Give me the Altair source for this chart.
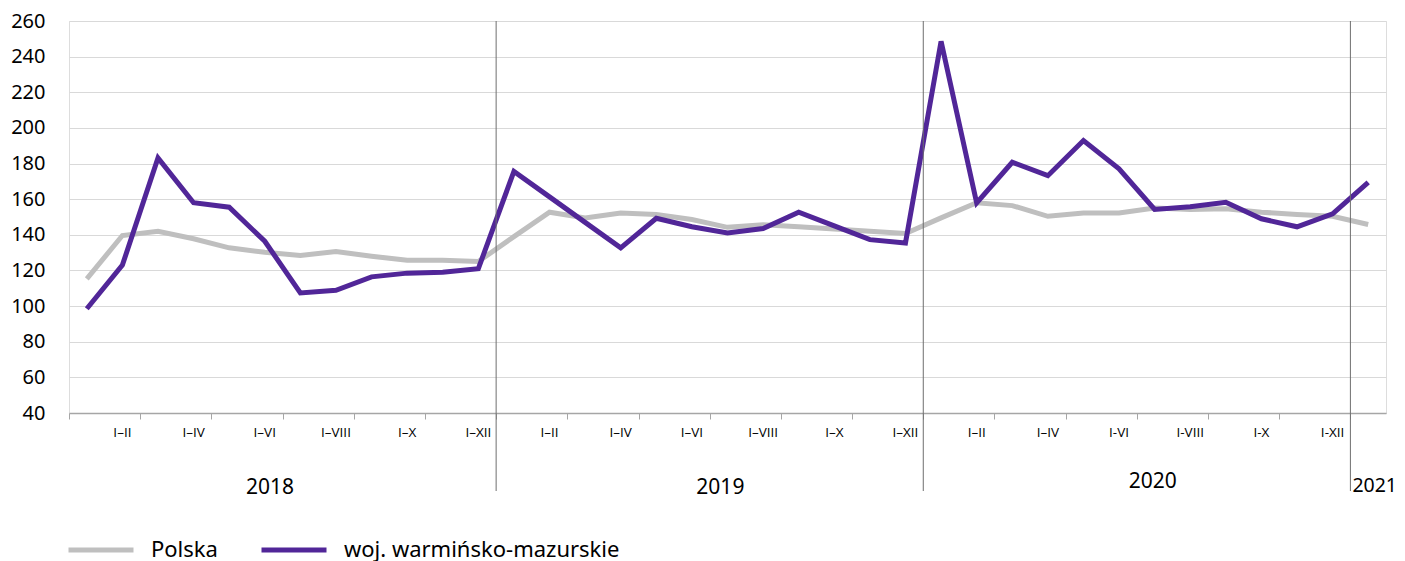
import altair as alt
import pandas as pd

# ---- data ----
series_names = ["Polska", "woj. warmińsko-mazurskie"]
polska = [115.3, 139.6, 142.0, 137.8, 132.7, 130.2, 128.4, 130.6, 128.0, 125.7, 125.7, 125.0,
          139.0, 152.7, 149.5, 152.3, 151.4, 148.6, 144.2, 145.6, 144.5, 143.2, 142.0, 140.7,
          149.5, 158.0, 156.4, 150.4, 152.3, 152.3, 155.0, 154.2, 154.6, 152.7, 151.4, 150.4,
          145.8]
warminsko = [98.5, 123.0, 183.2, 158.0, 155.5, 136.4, 107.4, 108.9, 116.4, 118.5, 119.0, 121.0,
             175.6, 161.3, 147.0, 132.7, 149.3, 144.5, 141.0, 143.5, 152.7, 145.0, 137.3, 135.4,
             248.6, 157.9, 180.7, 173.2, 192.9, 177.0, 154.2, 155.7, 158.3, 149.0, 144.5, 151.8,
             169.5]
tick_labels = ["I–II", "I–IV", "I–VI", "I–VIII", "I–X", "I–XII",
               "I–II", "I–IV", "I–VI", "I–VIII", "I–X", "I–XII",
               "I–II", "I–IV", "I-VI", "I-VIII", "I-X", "I-XII"]
years = ["2018", "2019", "2020", "2021"]
months_per_year = [12, 12, 12, 1]

FONT = "Noto Sans"
TICK_FONT = "Open Sans"
GRAY = "#bfbfbf"
PURPLE = "#512698"

n = len(polska)
df = pd.DataFrame({
    "i": list(range(n)) * 2,
    "value": polska + warminsko,
    "series": [series_names[0]] * n + [series_names[1]] * n,
})

xscale = alt.Scale(domain=[-0.5, n - 0.5], nice=False, zero=False)
boundaries = [k - 0.5 for k in range(n + 1)]

lines = alt.Chart(df).mark_line(strokeWidth=5).encode(
    x=alt.X("i:Q", scale=xscale,
            axis=alt.Axis(values=boundaries, labels=False, ticks=True, tickSize=6,
                          tickColor="#a6a6a6", domainColor="#a6a6a6", domainWidth=1.5,
                          grid=False, title=None)),
    y=alt.Y("value:Q", scale=alt.Scale(domain=[40, 260], nice=False, zero=False),
            axis=alt.Axis(values=list(range(40, 261, 20)), grid=True, gridColor="#d9d9d9",
                          gridWidth=1.2, domain=False, ticks=False, labelFontSize=20,
                          labelFont=FONT, labelColor="#000000", labelPadding=24, title=None)),
    color=alt.Color("series:N",
                    scale=alt.Scale(domain=series_names, range=[GRAY, PURPLE]),
                    legend=alt.Legend(orient="none", legendX=-3, legendY=494,
                                      direction="horizontal", title=None,
                                      symbolType="stroke", symbolSize=4225,
                                      symbolStrokeWidth=5, labelFontSize=22,
                                      labelFont=FONT, labelColor="#000000",
                                      labelLimit=500,
                                      labelOffset=15, columnPadding=33)),
)

# tick labels at every second month
tick_idx = list(range(1, 36, 2))
tl_df = pd.DataFrame({"i": tick_idx, "label": tick_labels})
tick_text = alt.Chart(tl_df).mark_text(fontSize=13.5, font=TICK_FONT, color="#000000",
                                       baseline="middle", align="center").encode(
    x=alt.X("i:Q", scale=xscale), y=alt.value(412), text="label:N")

# year separators
starts = [0]
for m in months_per_year[:-1]:
    starts.append(starts[-1] + m)
sep_df = pd.DataFrame({"b": [s - 0.5 for s in starts[1:]]})
seps = alt.Chart(sep_df).mark_rule(color="#6e6e6e", strokeWidth=1).encode(
    x=alt.X("b:Q", scale=xscale), y=alt.value(0), y2=alt.value(470))

# year labels
yr_shift = [-0.35, 0.3, 0.45, 0.0]
yr_pos = []
for s, m, sh in zip(starts, months_per_year, yr_shift):
    yr_pos.append(s + (m - 1) / 2 + sh)
yr_df = pd.DataFrame({"year": years[:3], "pos": yr_pos[:3], "ypix": [467, 467, 461]})
yr_text = alt.Chart(yr_df).mark_text(fontSize=21, font=FONT, color="#000000",
                                     baseline="middle", align="center").encode(
    x=alt.X("pos:Q", scale=xscale), y=alt.Y("ypix:Q", scale=None), text="year:N")
yr_last = alt.Chart(pd.DataFrame({"year": [years[3]], "b": [starts[3] - 0.5]})).mark_text(
    fontSize=19.5, font=FONT, color="#000000", baseline="middle", align="left", dx=2).encode(
    x=alt.X("b:Q", scale=xscale), y=alt.value(465), text="year:N")

chart = alt.layer(lines, seps, tick_text, yr_text, yr_last).properties(
    width=1317, height=392,
    autosize=alt.AutoSizeParams(type="none"),
    padding={"left": 61, "top": 13, "right": 10, "bottom": 148},
).configure_view(stroke=None).configure(font=FONT)

chart.save("out.html", embed_options={"renderer": "svg", "actions": False})
